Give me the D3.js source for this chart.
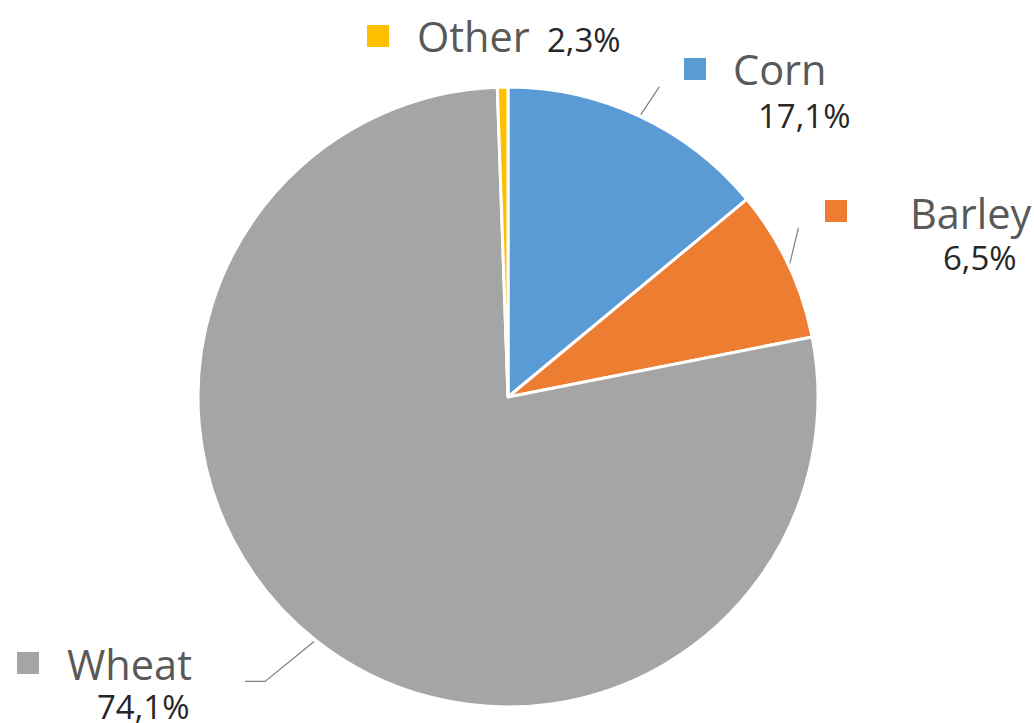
<!DOCTYPE html>
<html><head><meta charset="utf-8">
<script src="https://cdn.jsdelivr.net/npm/d3@7"></script>
<style>html,body{margin:0;padding:0;background:#fff;}svg{display:block;}</style>
</head><body>
<svg id="chart" width="1034" height="723"></svg>
<script>
// ---- data ----
const categories = ["Corn", "Barley", "Wheat", "Other"];
const sliceValues = [14.0, 7.9, 77.55, 0.55];          // slice sizes as drawn
const shareLabels = ["17,1%", "6,5%", "74,1%", "2,3%"]; // printed labels
const colors = ["#5B9BD5", "#ED7D31", "#A5A5A5", "#FFC000"];

// ---- layout ----
const W = 1034, H = 723;
const cx = 508, cy = 397, R = 310;
const labelLayout = [
  {sq:[684,58], name:[733,85], val:[758,128], leader:[26, 345], hook:0},
  {sq:[825,200], name:[910,229], val:[943,270], leader:[59.8, 336], hook:0},
  {sq:[17,652], name:[67,680], val:[97,719], leader:[220.5, 374], hook:-20},
  {sq:[367,25], name:[417,52], val:[547,52], leader:null, hook:0}
];

const svg = d3.select("#chart");
const g = svg.append("g").attr("transform", `translate(${cx},${cy})`);

const pie = d3.pie().sort(null).value(d => d.v);
const data = categories.map((c, i) => ({c, v: sliceValues[i], lab: shareLabels[i], col: colors[i], L: labelLayout[i]}));
const arcs = pie(data);
const arc = d3.arc().innerRadius(0).outerRadius(R);

g.selectAll("path.slice").data(arcs).join("path")
  .attr("class", "slice")
  .attr("d", arc)
  .attr("fill", d => d.data.col)
  .attr("stroke", "#fff")
  .attr("stroke-width", 3)
  .attr("stroke-linejoin", "round");

const polar = (angDeg, r) => {
  const a = angDeg * Math.PI / 180;
  return [cx + r * Math.sin(a), cy - r * Math.cos(a)];
};

// leader lines
arcs.forEach(d => {
  const L = d.data.L;
  if (!L.leader) return;
  const mid = ((d.startAngle + d.endAngle) / 2) * 180 / Math.PI;
  const p0 = polar(mid, R + 2);
  const p1 = polar(L.leader[0], L.leader[1]);
  const pts = [p0, p1];
  if (L.hook) pts.push([p1[0] + L.hook, p1[1]]);
  svg.append("path")
    .attr("d", d3.line()(pts))
    .attr("fill", "none")
    .attr("stroke", "#7f7f7f")
    .attr("stroke-width", 1.2);
});

// labels
const font = "'Open Sans', 'Noto Sans', sans-serif";
arcs.forEach(d => {
  const L = d.data.L;
  svg.append("rect")
    .attr("x", L.sq[0]).attr("y", L.sq[1])
    .attr("width", 22).attr("height", 22)
    .attr("fill", d.data.col);
  svg.append("text")
    .attr("x", L.name[0]).attr("y", L.name[1])
    .attr("font-family", font).attr("font-size", 41.5)
    .attr("fill", "#595959")
    .text(d.data.c);
  svg.append("text")
    .attr("x", L.val[0]).attr("y", L.val[1])
    .attr("font-family", font).attr("font-size", 33)
    .attr("fill", "#262626")
    .text(d.data.lab);
});
</script>
</body></html>
